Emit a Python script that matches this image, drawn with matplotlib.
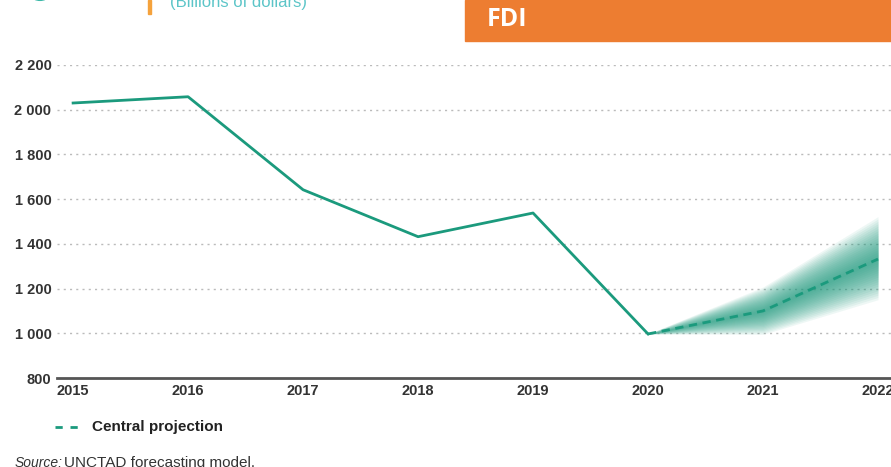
import matplotlib
matplotlib.use('Agg')
import matplotlib.pyplot as plt
import numpy as np
from matplotlib.patches import Rectangle, Circle

# Datos (miles de millones de dólares)
years = [2015, 2016, 2017, 2018, 2019, 2020]
fdi = [2030, 2058, 1642, 1432, 1538, 997]

proj_years = [2020, 2021, 2022]
proj_central = [997, 1100, 1332]
proj_upper = [997, 1207, 1522]
proj_lower = [997, 995, 1150]

yticks = [800, 1000, 1200, 1400, 1600, 1800, 2000, 2200]
ytick_labels = ['800', '1 000', '1 200', '1 400', '1 600', '1 800', '2 000', '2 200']
xticks = [2015, 2016, 2017, 2018, 2019, 2020, 2021, 2022]

GREEN = '#1b9a7d'
TEXT = '#333333'

plt.rcParams['font.family'] = ['Liberation Sans', 'DejaVu Sans']

W, H = 891, 467
fig = plt.figure(figsize=(W / 100, H / 100), dpi=100)
fig.patch.set_facecolor('white')

# Eje principal (se extiende más allá del borde derecho, como en el original)
left_px, bottom_px, top_px = 57, 378, 65
x0, x1 = 2014.86, 2022.3
right_px = 73 + (x1 - 2015) * 115
ax = fig.add_axes([left_px / W, (H - bottom_px) / H,
                   (right_px - left_px) / W, (bottom_px - top_px) / H])
ax.set_xlim(x0, x1)
ax.set_ylim(800, 2200)

# Banda de proyección con degradado
c = np.array(proj_central, dtype=float)
up = np.array(proj_upper, dtype=float)
lo = np.array(proj_lower, dtype=float)
n = 18
for k in range(1, n + 1):
    f = k / n
    ax.fill_between(proj_years, c + (up - c) * f, c - (c - lo) * f,
                    color=GREEN, alpha=0.07, linewidth=0, zorder=2)

ax.plot(years, fdi, color=GREEN, linewidth=2, zorder=3)
ax.plot(proj_years, proj_central, color=GREEN, linewidth=2, linestyle=(0, (3, 2)),
        zorder=4)

ax.set_yticks(yticks)
ax.set_yticklabels(ytick_labels)
ax.set_xticks(xticks)
ax.set_xticklabels([str(x) for x in xticks])
for lab in ax.get_yticklabels() + ax.get_xticklabels():
    lab.set_fontweight('bold')
    lab.set_fontsize(10.5)
    lab.set_color(TEXT)
ax.tick_params(axis='both', length=0)
ax.tick_params(axis='y', pad=4)
ax.tick_params(axis='x', pad=4)

for y in yticks[1:]:
    ax.axhline(y, color='#bbbbbb', linewidth=1, linestyle=(0, (1.5, 3)), zorder=1)

for s in ['top', 'right', 'left']:
    ax.spines[s].set_visible(False)
ax.spines['bottom'].set_color('#555555')
ax.spines['bottom'].set_linewidth(2)

# Cabecera recortada
fig.patches.append(Rectangle((465 / W, (H - 41) / H), (W - 465) / W, 41 / H,
                             transform=fig.transFigure, color='#ed7d31', zorder=1))
fig.text(487 / W, (H - 20) / H, 'FDI', color='white', fontsize=18,
         fontweight='bold', va='center', ha='left', family=['Open Sans', 'DejaVu Sans'])
fig.patches.append(Rectangle((148 / W, (H - 14) / H), 3 / W, 14 / H,
                             transform=fig.transFigure, color='#f5a23c'))
fig.text(170 / W, (H - 3) / H, '(Billions of dollars)', color='#5cc5c8',
         fontsize=12, va='center', ha='left')
fig.patches.append(Circle((40 / W, (H + 4) / H), 7 / W, transform=fig.transFigure,
                          facecolor='none', edgecolor='#3cb8a8', linewidth=2))

# Leyenda
fig.lines.append(plt.Line2D([55 / W, 85 / W], [(H - 427) / H] * 2,
                            transform=fig.transFigure, color=GREEN, linewidth=2,
                            linestyle=(0, (2.6, 2.8))))
fig.text(92 / W, (H - 427) / H, 'Central projection', color='#222222',
         fontsize=11, fontweight='bold', va='center', ha='left')

# Fuente
fig.text(15 / W, (H - 463) / H, 'Source:', style='italic', color=TEXT,
         fontsize=10, va='center', ha='left')
fig.text(64 / W, (H - 463) / H, 'UNCTAD forecasting model.', color=TEXT,
         fontsize=11, va='center', ha='left')

fig.savefig('out.png', dpi=100, facecolor='white')
